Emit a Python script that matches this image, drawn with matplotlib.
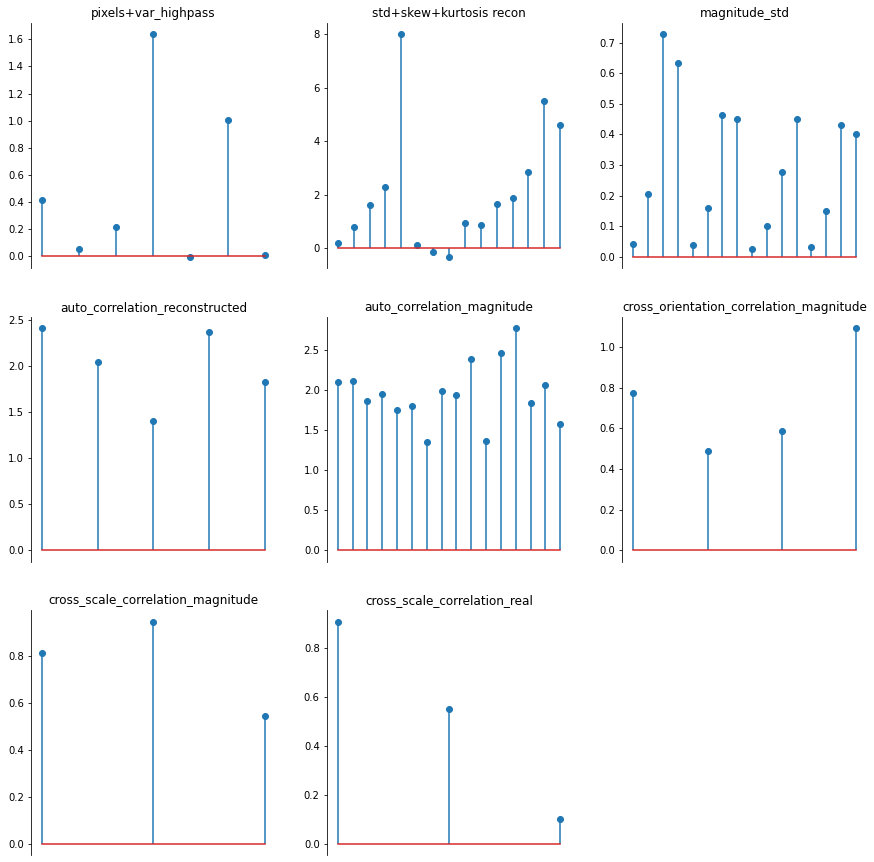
import matplotlib
matplotlib.use('Agg')
import matplotlib.pyplot as plt
from matplotlib.ticker import MultipleLocator

titles = [
    'pixels+var_highpass',
    'std+skew+kurtosis recon',
    'magnitude_std',
    'auto_correlation_reconstructed',
    'auto_correlation_magnitude',
    'cross_orientation_correlation_magnitude',
    'cross_scale_correlation_magnitude',
    'cross_scale_correlation_real',
]

pixels_var_highpass = [0.415, 0.054, 0.216, 1.637, -0.005, 1.004, 0.005]
std_skew_kurtosis = [0.2, 0.8, 1.62, 2.29, 8.0, 0.12, -0.14, -0.32,
                     0.95, 0.87, 1.65, 1.88, 2.85, 5.5, 4.6]
magnitude_std = [0.041, 0.205, 0.727, 0.632, 0.038, 0.158, 0.463, 0.450,
                 0.025, 0.100, 0.277, 0.450, 0.033, 0.149, 0.430, 0.401]
auto_corr_recon = [2.41, 2.04, 1.40, 2.37, 1.83]
auto_corr_mag = [2.10, 2.115, 1.863, 1.951, 1.750, 1.801, 1.361, 1.989,
                 1.939, 2.391, 1.374, 2.467, 2.781, 1.838, 2.065, 1.575]
cross_orient_mag = [0.773, 0.487, 0.586, 1.094]
cross_scale_mag = [0.816, 0.948, 0.544]
cross_scale_real = [0.910, 0.551, 0.102]

series = [pixels_var_highpass, std_skew_kurtosis, magnitude_std, auto_corr_recon,
          auto_corr_mag, cross_orient_mag, cross_scale_mag, cross_scale_real]

fig, axes = plt.subplots(3, 3, figsize=(874 / 72, 862 / 72), dpi=72)
axes = axes.flatten()

for ax, title, vals in zip(axes, titles, series):
    ax.stem(range(len(vals)), vals)
    ax.set_title(title, fontsize=12)
    ax.spines['top'].set_visible(False)
    ax.spines['right'].set_visible(False)
    ax.spines['bottom'].set_visible(False)
    ax.set_xticks([])
    ax.tick_params(axis='y', labelsize=10)

# first panel uses 0.2 steps on the y axis
axes[0].yaxis.set_major_locator(MultipleLocator(0.2))
axes[-1].axis('off')

plt.subplots_adjust(left=0.0355, right=0.992, bottom=0.008, top=0.973,
                    wspace=0.208, hspace=0.2)
plt.savefig('out.png', dpi=72)
